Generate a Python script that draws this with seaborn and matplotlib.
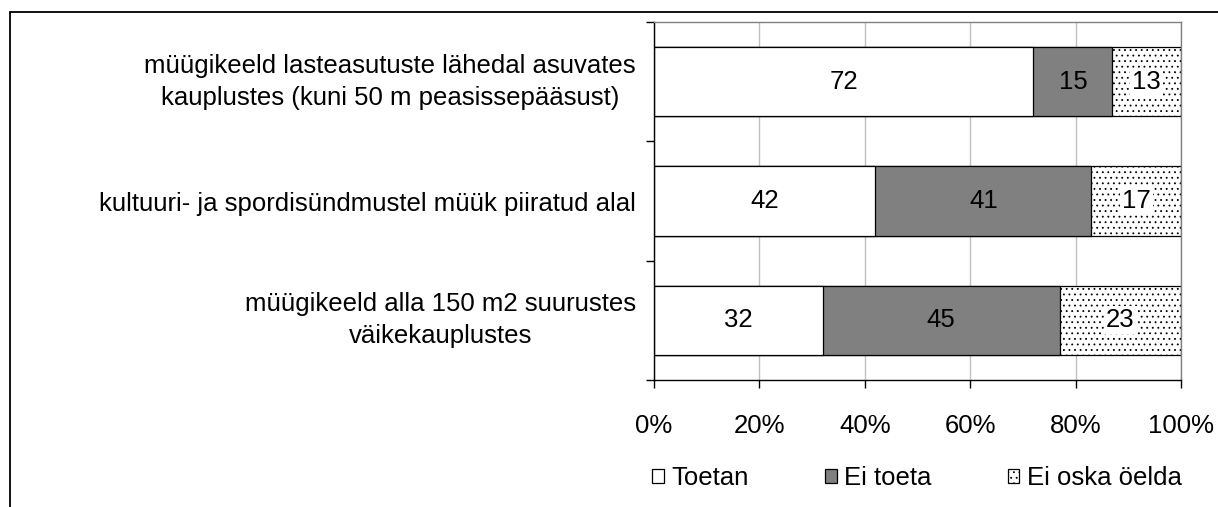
import matplotlib
matplotlib.use("Agg")
import matplotlib.pyplot as plt
import seaborn as sns
import pandas as pd
from matplotlib.lines import Line2D

categories = [
    "müügikeeld lasteasutuste lähedal asuvates\nkauplustes (kuni 50 m peasissepääsust)",
    "kultuuri- ja spordisündmustel müük piiratud alal",
    "müügikeeld alla 150 m2 suurustes\nväikekauplustes",
]
toetan = [72, 42, 32]
ei_toeta = [15, 41, 45]
ei_oska = [13, 17, 23]
series_names = ["Toetan", "Ei toeta", "Ei oska öelda"]
xticks = [0, 20, 40, 60, 80, 100]
xtick_labels = ["0%", "20%", "40%", "60%", "80%", "100%"]

sns.set_style("ticks")
plt.rcParams['font.family'] = ['Liberation Sans', 'DejaVu Sans']
plt.rcParams['hatch.linewidth'] = 0.6
plt.rcParams['text.color'] = 'black'
plt.rcParams['xtick.color'] = 'black'
plt.rcParams['ytick.color'] = 'black'
plt.rcParams['xtick.labelcolor'] = 'black'
plt.rcParams['ytick.labelcolor'] = 'black'
FS = 18.5

fig = plt.figure(figsize=(12.18, 5.07), dpi=100)
ax = fig.add_axes([654/1218, 1-380/507, (1181-654)/1218, (380-22)/507])

df = pd.DataFrame({"cat": categories, "t": toetan, "e": ei_toeta, "o": ei_oska})
df["c1"] = df["t"]
df["c2"] = df["t"] + df["e"]
df["c3"] = df["c2"] + df["o"]

w = 0.58
common = dict(data=df, y="cat", orient="h", width=w, edgecolor="black",
              linewidth=0.9, saturation=1, ax=ax, zorder=2)
sns.barplot(x="c3", color="white", hatch="...", **common)
sns.barplot(x="c2", color="#808080", **common)
sns.barplot(x="c1", color="white", **common)
c3, c2, c1 = ax.containers[0], ax.containers[1], ax.containers[2]

# value labels
for i in range(len(categories)):
    starts = [0, toetan[i], toetan[i] + ei_toeta[i]]
    vals = [toetan[i], ei_toeta[i], ei_oska[i]]
    for k, (s, v) in enumerate(zip(starts, vals)):
        if k == 2:
            bb = dict(facecolor="white", edgecolor="none", pad=1.5)
        else:
            bb = None
        ax.text(s + v / 2, i, str(v), ha="center", va="center", fontsize=FS, color="black",
                zorder=5, bbox=bb)

ax.set_xlim(0, 100)
ax.set_ylim(2.5, -0.5)
ax.set_xticks(xticks, labels=xtick_labels)
ax.set_xlabel("")
ax.set_ylabel("")
ax.set_yticks([-0.5, 0.5, 1.5, 2.5], labels=[])
ax.set_yticks([0, 1, 2], labels=categories, minor=True)
for lab in ax.get_yticklabels(minor=True):
    lab.set_multialignment("center")
    lab.set_linespacing(1.42)
    if "\n" in lab.get_text():
        lab.set_verticalalignment("center")
ax.tick_params(axis="y", which="minor", length=0, pad=13, labelsize=FS)
ax.tick_params(axis="y", which="major", length=5.8, width=1, direction="out", color="black", left=True)
ax.tick_params(axis="x", which="major", length=5.8, width=1, direction="out", color="black",
               bottom=True, pad=19, labelsize=FS)

ax.xaxis.grid(True, color="#c0c0c0", lw=1)
ax.set_axisbelow(True)
for s in ["top", "right"]:
    ax.spines[s].set_visible(True)
    ax.spines[s].set_color("#808080")
    ax.spines[s].set_linewidth(1)
for s in ["left", "bottom"]:
    ax.spines[s].set_color("black")
    ax.spines[s].set_linewidth(1)

if ax.get_legend() is not None:
    ax.get_legend().remove()
fig.legend(handles=[c1[0], c2[0], c3[0]], labels=series_names, ncol=3, loc="center",
           bbox_to_anchor=(0.753, 1 - 478/507), frameon=False, fontsize=FS,
           handlelength=0.46, handleheight=0.46, handletextpad=0.3, columnspacing=2.95)

# outer frame (top and left)
fig.add_artist(Line2D([10/1218, 1], [1 - 11.7/507] * 2, transform=fig.transFigure, color="black", lw=1.3))
fig.add_artist(Line2D([10/1218] * 2, [0, 1 - 11.7/507], transform=fig.transFigure, color="black", lw=1.3))

fig.savefig("out.png", dpi=100, facecolor="white")
